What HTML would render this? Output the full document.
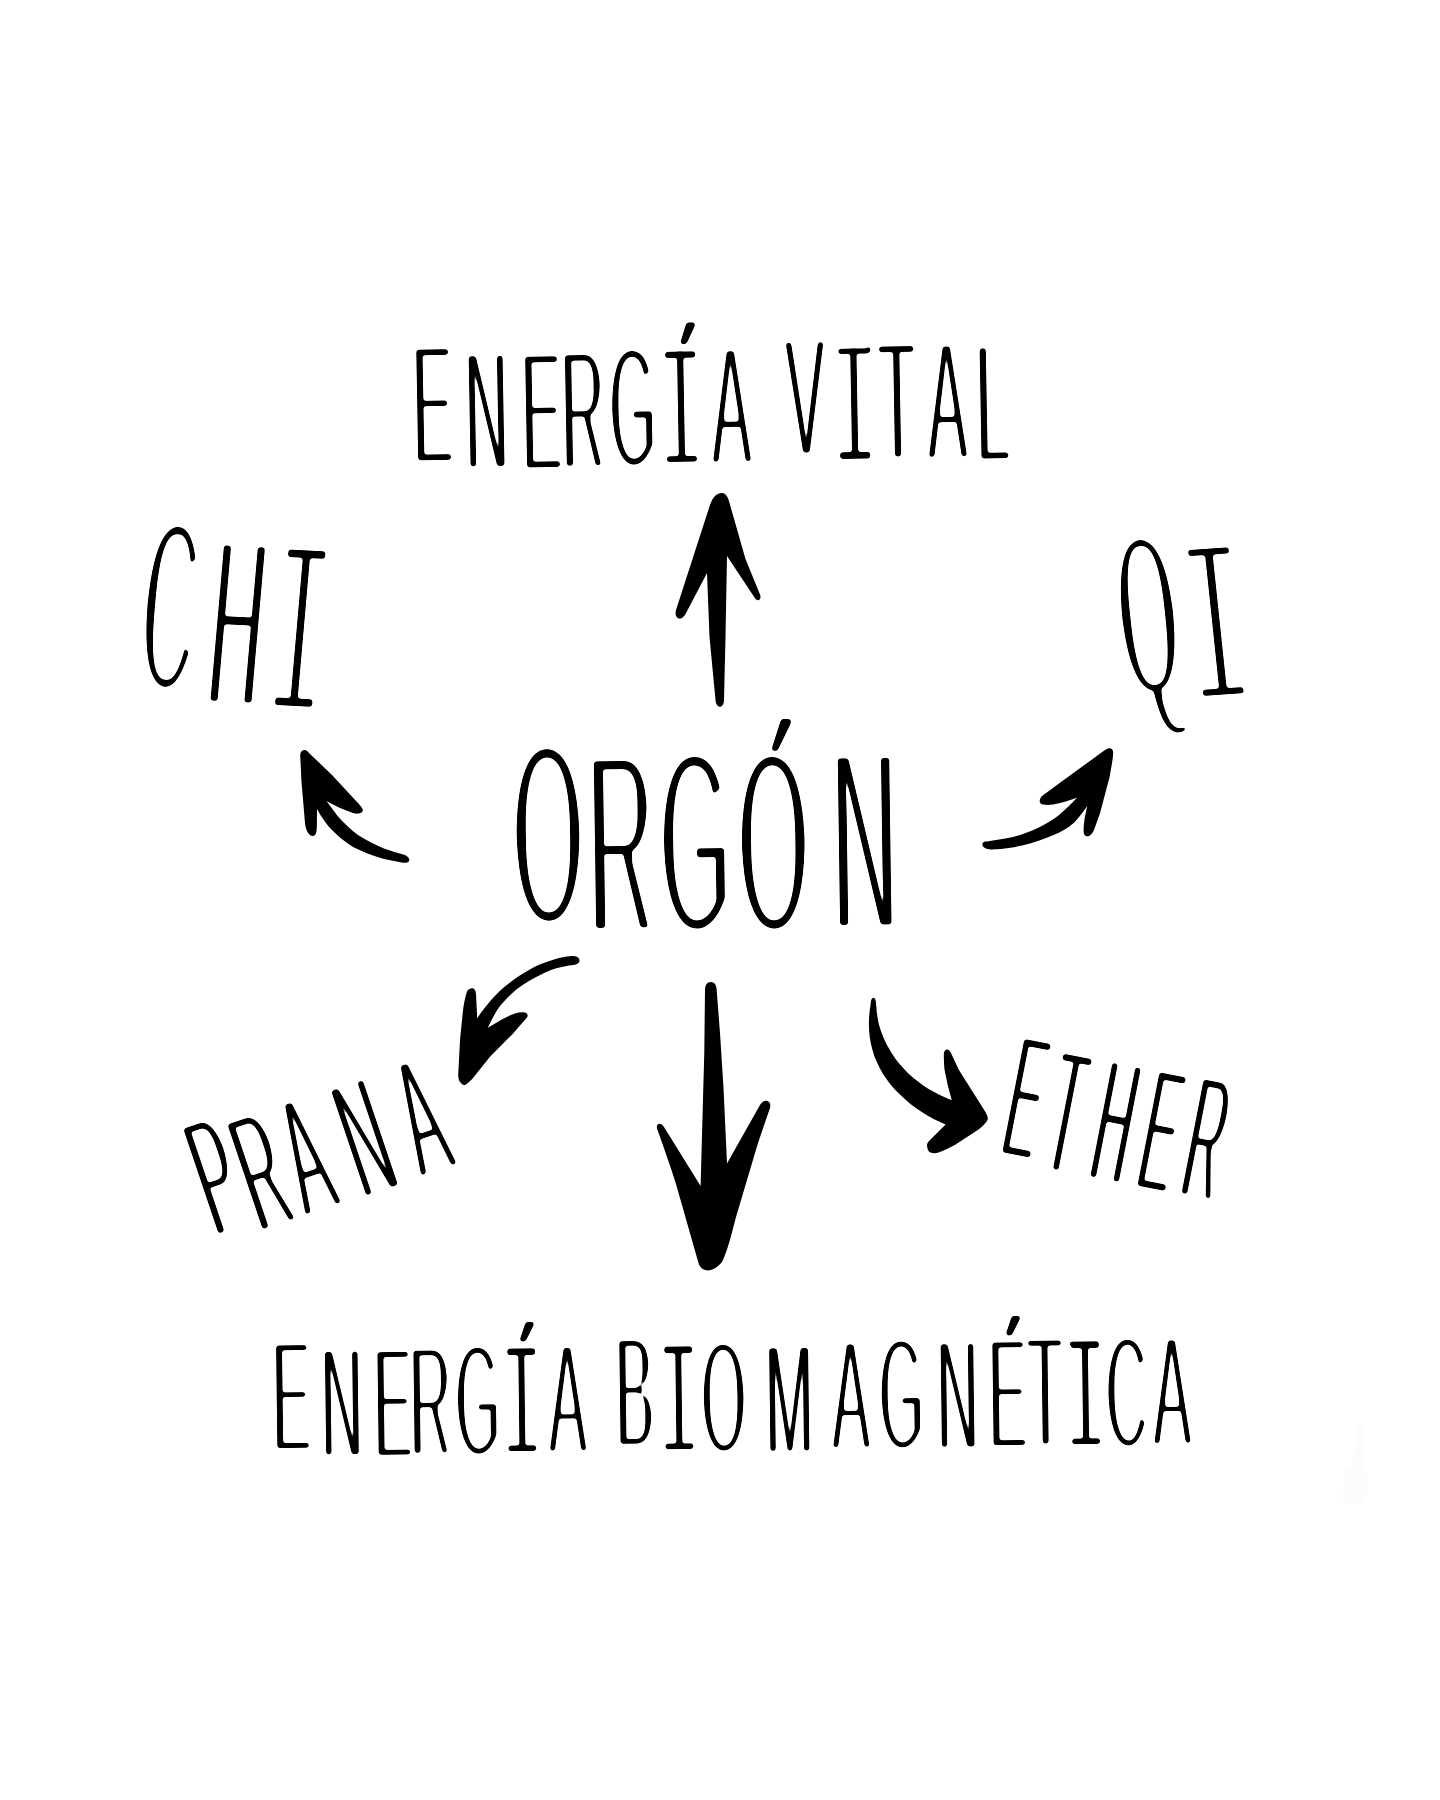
<!DOCTYPE html>
<html lang="es">
<head>
<meta charset="utf-8">
<title>Orgón</title>
<style>
html,body{margin:0;padding:0;background:#fff;}
body{width:1440px;height:1800px;overflow:hidden;position:relative;}
svg{position:absolute;left:0;top:0;display:block;}
text{font-family:"Liberation Sans","DejaVu Sans",sans-serif;fill:#000;white-space:pre;}
text.m{font-family:"Liberation Mono","DejaVu Sans Mono",monospace;}
</style>
</head>
<body>
<svg width="1440" height="1800" viewBox="0 0 1440 1800">
<rect width="1440" height="1800" fill="#fff"/>
<path id="smudge" d="M1358,1424 L1364,1424 L1364,1468 L1367,1472 L1367,1498 L1363,1504 L1343,1504 L1344,1472 L1352,1466 L1355,1440 Z" fill="#fcfcfc"/>
<!--ARROWS-->
<g id="arrows" fill="#000">
<path d="M722,493 C716,493 712,498 709,508 L676,610 C674,618 680,622 685,615 L707,573 L709.5,637 L715.5,700 C716,709 724,709 724,700 L725.5,637 L727,556 L754.5,597.5 C757.5,602.5 762,600 760,594.5 L745.5,559 L729.5,503 C728,496 725,493 722,493 Z"/>
<path d="M711,982 C707,982 705,985 705,990 L704.3,1052 L700.6,1186 L664,1127 C660,1121 655,1124 657.5,1130 C664,1148 670,1165 676,1184 L690.5,1235 L698.5,1263 C701,1272 712,1274 722,1262 C728,1250 732,1232 736,1217 L758,1143 L770,1108 C772,1100 764,1098 760,1105 L727,1163.5 L723.5,1088 L720,1033 L716.5,988 C716,984 714,982 711,982 Z"/>
<path d="M305,750 C301,750 300,753 300.3,757 L301.5,782 L305,823 C306,834 312,838 315,835 C317,833 317,830 317,809 C322,818 327,825 332,830 C338,836 345,842 353,847 C363,852 373,856 384,859 L403,862.8 C410,863.5 412,859 405,855 C398,853 391,851 384,848.5 C375,845 366,840 358,835 C351,830 344,823 338,816.5 L326.5,801 C335,806 344,810 353,813 C360,815 365,812 362,808 C360,805 359,804 357,802 L332,775 L309,753 C307.5,751 306,750 305,750 Z"/>
<path d="M982.5,845 C982,842 984,841.5 987,841.5 C995,840.5 1003,839 1011.7,837.3 C1021,835 1029,832 1037.7,828 C1045,824.5 1052,820 1058.5,815.4 C1065,810 1071,804 1077,797.7 C1069,800.5 1061,803 1053,804.5 C1049,805.2 1046,805 1043,804.5 C1039,804 1038.5,800 1042,796 L1063.75,780 L1105,750 C1109,747 1113,747.5 1113.2,752.5 C1113,760 1111,768 1109.6,777 L1100,813.3 L1094,830 C1091,837 1086,838 1084,834 C1083,830 1084,824 1084.6,818.5 L1087.2,806 C1083,812 1079,817.5 1074,822.7 C1068,828 1061,832 1053,835.2 C1043,839.5 1033,843 1022,845.6 C1013,847.5 1004,848.6 996,849.3 C990,849.8 983,849 982.5,845 Z"/>
<path d="M579.4,960 C579,957 576,956 572,956.1 C565,956.5 558,958 551,960.6 C543,963 536,966 529,970 C522,974 515,978.5 509,983.3 C503,988 497.5,993 492,999 C487,1005 482,1011 477.2,1018.3 L476.1,995.6 C476,990 474,988 472,988.3 C469,988.5 467.5,990 466.7,992.2 C465,998 463.5,1005 462.8,1012.2 L460,1040 L458.3,1073.3 C458,1078 459,1081 460.6,1082.5 C462,1085 464,1085.5 466,1084.4 C468,1083 470,1081 472.2,1079 L490,1056.7 L512.2,1034.4 L526.7,1017.8 C529,1015 527,1012.5 523.3,1012.2 C520.5,1012 518,1012.5 515.6,1013.3 C510,1015 505.5,1017.5 501,1020 L487.8,1027.8 C491,1021 494,1015 497.8,1009 C502,1003.5 507,998 512.2,993.3 C517,988.5 523,984.5 529,981 C536,977 543,973 551,970 C558,967.5 565.5,966 573.3,965 C577,964.5 579.8,963 579.4,960 Z"/>
<path d="M873.3,997.8 C871.5,998 870.8,1001 870.6,1004.4 C869.5,1011 868.8,1017.5 868.9,1024.4 C869,1033 870,1041 872.2,1049 C874.5,1058 878.5,1066.5 883.3,1074.4 C888,1081.5 893.5,1088.5 900,1094.4 C906.5,1101 914,1107 922.2,1112.2 C929.5,1117 937.5,1121 945.6,1124.4 L930,1140 C927.5,1142.5 926.5,1144.5 927.2,1146.7 C927.5,1149.5 928.5,1151.5 930,1152.2 C932.5,1153.5 935,1153.5 937.8,1152.8 C944,1150.5 950,1147.5 955.6,1144.4 L977.8,1130 C981,1127.5 984,1125 986.1,1122.2 C987.5,1120.5 988,1119 987.8,1117.8 C987.5,1116 986.5,1114 985.6,1112.2 L972.2,1091.1 L958.9,1070 L951.1,1053.3 C950,1050.5 948.5,1049.3 947.2,1049.4 C945.5,1049.5 944,1051 943.9,1053.3 C943.7,1058.5 944,1063.5 944.4,1069 L947.8,1085.6 L951.7,1100 C947.5,1098.5 943,1096.5 938.9,1094.4 C932,1091 925,1087 918.9,1082.2 C912,1077 905.5,1071 900,1064.4 C895,1058.5 890.5,1051.5 886.7,1044.4 C883.5,1038 881,1031.5 878.9,1024.4 C877.5,1018 876.5,1011 876.1,1003.9 C876,1000.5 875,997.6 873.3,997.8 Z"/>
</g>
<!--TEXT-->
<g id="words">
<defs><filter id="f_w1" x="-5%" y="-30%" width="110%" height="160%" color-interpolation-filters="sRGB"><feMorphology operator="erode" radius="0 4" result="a"/><feFlood flood-color="#000" x="251.3" y="-150.0" width="24.4" height="32.6" result="z0"/><feComposite in="a" in2="z0" operator="out" result="a"/><feMorphology in="SourceGraphic" operator="dilate" radius="1 0" x="251.3" y="-150.0" width="24.4" height="32.6" result="c0"/><feOffset in="c0" dx="6" dy="6" x="257.3" y="-144.0" width="24.4" height="32.6" result="b0"/><feMorphology in="a" operator="dilate" radius="12 0" x="246.0" y="-109.9" width="32.0" height="5.0" result="s0"/><feMorphology in="a" operator="dilate" radius="12 0" x="246.0" y="-4.9" width="32.0" height="5.0" result="s1"/><feMorphology in="a" operator="dilate" radius="12 0" x="419.3" y="-110.4" width="32.0" height="5.0" result="s2"/><feMorphology in="a" operator="dilate" radius="12 0" x="419.3" y="-5.4" width="32.0" height="5.0" result="s3"/><feMerge><feMergeNode in="a"/><feMergeNode in="b0"/><feMergeNode in="s0"/><feMergeNode in="s1"/><feMergeNode in="s2"/><feMergeNode in="s3"/></feMerge><feGaussianBlur stdDeviation="1.6"/><feComponentTransfer><feFuncA type="linear" slope="5" intercept="-1.6"/></feComponentTransfer></filter>
<filter id="f_w2" x="-5%" y="-30%" width="110%" height="160%" color-interpolation-filters="sRGB"><feMorphology operator="erode" radius="1 6" result="a"/><feGaussianBlur stdDeviation="1.6"/><feComponentTransfer><feFuncA type="linear" slope="5" intercept="-2"/></feComponentTransfer></filter>
<filter id="f_w3" x="-5%" y="-30%" width="110%" height="160%" color-interpolation-filters="sRGB"><feMorphology operator="erode" radius="1 6" result="a"/><feGaussianBlur stdDeviation="1.6"/><feComponentTransfer><feFuncA type="linear" slope="5" intercept="-2.25"/></feComponentTransfer></filter>
<filter id="f_w4" x="-5%" y="-30%" width="110%" height="160%" color-interpolation-filters="sRGB"><feMorphology operator="erode" radius="0 6" result="a"/><feFlood flood-color="#000" x="240.1" y="-225.0" width="35.1" height="49.2" result="z0"/><feComposite in="a" in2="z0" operator="out" result="a"/><feOffset in="SourceGraphic" dx="0" dy="0" x="240.1" y="-225.0" width="35.1" height="49.2" result="c0"/><feOffset in="c0" dx="8" dy="12" x="248.1" y="-213.0" width="35.1" height="49.2" result="b0"/><feMerge><feMergeNode in="a"/><feMergeNode in="b0"/></feMerge><feGaussianBlur stdDeviation="1.6"/><feComponentTransfer><feFuncA type="linear" slope="5" intercept="-1.65"/></feComponentTransfer></filter>
<filter id="f_w5" x="-5%" y="-30%" width="110%" height="160%" color-interpolation-filters="sRGB"><feMorphology operator="erode" radius="0 4" result="a"/><feGaussianBlur stdDeviation="1.6"/><feComponentTransfer><feFuncA type="linear" slope="5" intercept="-1.5"/></feComponentTransfer></filter>
<filter id="f_w6" x="-5%" y="-30%" width="110%" height="160%" color-interpolation-filters="sRGB"><feMorphology operator="erode" radius="0 4" result="a"/><feGaussianBlur stdDeviation="1.6"/><feComponentTransfer><feFuncA type="linear" slope="5" intercept="-1.5"/></feComponentTransfer></filter>
<filter id="f_w7" x="-5%" y="-30%" width="110%" height="160%" color-interpolation-filters="sRGB"><feMorphology operator="erode" radius="0 4" result="a"/><feFlood flood-color="#000" x="232.0" y="-139.4" width="23.6" height="30.4" result="z0"/><feComposite in="a" in2="z0" operator="out" result="a"/><feMorphology in="SourceGraphic" operator="dilate" radius="1 0" x="232.0" y="-139.4" width="23.6" height="30.4" result="c0"/><feOffset in="c0" dx="4" dy="6" x="236.0" y="-133.4" width="23.6" height="30.4" result="b0"/><feFlood flood-color="#000" x="719.0" y="-139.5" width="23.6" height="30.4" result="z1"/><feComposite in="a" in2="z1" operator="out" result="a"/><feMorphology in="SourceGraphic" operator="dilate" radius="1 0" x="719.0" y="-139.5" width="23.6" height="30.4" result="c1"/><feOffset in="c1" dx="3.5" dy="6" x="722.5" y="-133.5" width="23.6" height="30.4" result="b1"/><feMorphology in="a" operator="dilate" radius="11 0" x="227.4" y="-101.9" width="30.0" height="5.0" result="s0"/><feMorphology in="a" operator="dilate" radius="11 0" x="227.4" y="-4.9" width="30.0" height="5.0" result="s1"/><feMorphology in="a" operator="dilate" radius="11 0" x="384.4" y="-101.9" width="30.0" height="5.0" result="s2"/><feMorphology in="a" operator="dilate" radius="11 0" x="384.4" y="-4.9" width="30.0" height="5.0" result="s3"/><feMorphology in="a" operator="dilate" radius="11 0" x="791.2" y="-101.9" width="30.0" height="5.0" result="s4"/><feMorphology in="a" operator="dilate" radius="11 0" x="791.2" y="-4.9" width="30.0" height="5.0" result="s5"/><feMerge><feMergeNode in="a"/><feMergeNode in="b0"/><feMergeNode in="b1"/><feMergeNode in="s0"/><feMergeNode in="s1"/><feMergeNode in="s2"/><feMergeNode in="s3"/><feMergeNode in="s4"/><feMergeNode in="s5"/></feMerge><feGaussianBlur stdDeviation="1.6"/><feComponentTransfer><feFuncA type="linear" slope="5" intercept="-1.65"/></feComponentTransfer></filter></defs>
<g transform="translate(420,466) rotate(-1)" filter="url(#f_w1)"><text transform="scale(0.3476,1)" font-size="171.5" x="-17.9 132.1 294.6 409.6 548.2 730.0 840.5 954.9 1055.3 1228.6 1323.1 1462.2 1602.6" y="-1.8 5.4 6.6 5.9 4.2 4.1 3.9 3.9 -3.3 3.6 3.3 3.2 5.5">ENERGÍA VITAL</text></g>
<g transform="translate(143.7,690) rotate(3) skewX(-2)" filter="url(#f_w2)"><text transform="scale(0.3845,1)" class="m" font-size="253.5" x="-25.9 153.1 316.2" y="-0.3 13.2 14.4">CHI</text></g>
<g transform="translate(1119,699) rotate(-4) skewX(2)" filter="url(#f_w3)"><text transform="scale(0.4427,1)" class="m" font-size="241.4" x="11.9 163.7" y="-1.8 9.4">QI</text></g>
<g transform="translate(519,928) rotate(-0.8)" filter="url(#f_w4)"><text transform="scale(0.3520,1)" font-size="258.7" x="-14.5 198.8 403.1 625.1 891.8" y="-3.6 6.8 6.3 7.4 7.2">ORGÓN</text></g>
<g transform="translate(226.7,1237.8) rotate(-18.6)" filter="url(#f_w5)"><text transform="scale(0.3389,1)" font-size="171.5" x="-31.7 95.8 240.8 417.5 600.8" y="-2.8 7.2 6.0 7.5 5.5">PRANA</text></g>
<g transform="translate(1003,1157) rotate(11)" filter="url(#f_w6)"><text transform="scale(0.2838,1)" font-size="177.3" x="-18.6 136.2 302.4 471.2 628.7" y="-1.0 6.0 6.0 5.5 4.5">ETHER</text></g>
<g transform="translate(280,1453.75) rotate(-0.71)" filter="url(#f_w7)"><text transform="scale(0.3585,1)" font-size="159.9" x="-19.6 116.7 262.6 363.1 490.9 654.0 750.5 857.2 938.2 1092.0 1177.0 1355.9 1540.4 1673.0 1833.9 1978.5 2087.1 2226.9 2305.4 2436.8" y="-1.7 5.1 5.8 4.9 3.7 4.1 4.2 4.2 -2.4 4.1 3.5 6.8 3.8 3.3 4.6 4.0 2.5 4.1 4.1 3.6">ENERGÍA BIOMAGNÉTICA</text></g>
</g>
<!--/TEXT-->
</svg>
</body>
</html>
